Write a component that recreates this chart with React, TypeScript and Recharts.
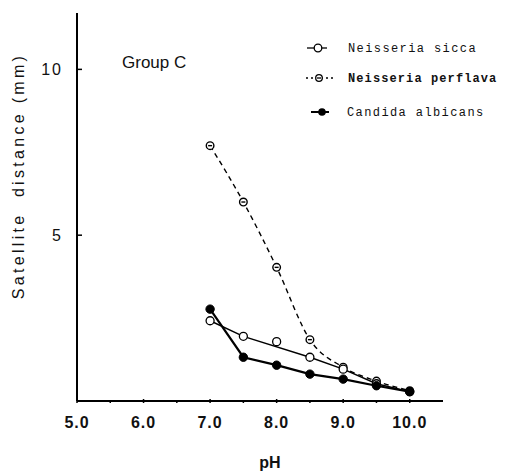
import { ComposedChart, Line, XAxis, YAxis, Customized } from "recharts";

const phValues = [7.0, 7.5, 8.0, 8.5, 9.0, 9.5, 10.0];
const siccaValues = [2.42, 1.95, 1.79, 1.32, 0.96, 0.52, 0.28];
const perflavaValues = [7.7, 6.0, 4.03, 1.85, 1.02, 0.6, 0.31];
const candidaValues = [2.77, 1.32, 1.08, 0.81, 0.66, 0.46, 0.28];

const xTicks = [5, 5.5, 6, 6.5, 7, 7.5, 8, 8.5, 9, 9.5, 10];
const yTicks = [5, 10];

const toPoints = (vals: number[]) => phValues.map((x, i) => ({ x, y: vals[i] }));
const sicca = toPoints(siccaValues);
// the fitted sicca line skips the pH 8.0 reading
const siccaLine = sicca.filter((p) => p.x !== 8.0);
const perflava = toPoints(perflavaValues);
const candida = toPoints(candidaValues);

const sans = "'Liberation Sans', Arial, sans-serif";
const mono = "'Liberation Mono', 'DejaVu Sans Mono', monospace";

const OpenDot = (props: any) => {
  const { cx, cy } = props;
  if (cx == null || cy == null) return null;
  return <circle cx={cx} cy={cy} r={4} fill="#fff" stroke="#000" strokeWidth={1.3} />;
};

const FilledDot = (props: any) => {
  const { cx, cy } = props;
  if (cx == null || cy == null) return null;
  return <circle cx={cx} cy={cy} r={4.2} fill="#000" stroke="#000" strokeWidth={1} />;
};

const BarDot = (props: any) => {
  const { cx, cy } = props;
  if (cx == null || cy == null) return null;
  return (
    <g>
      <circle cx={cx} cy={cy} r={3.8} fill="#fff" stroke="#000" strokeWidth={1.4} />
      <line x1={cx - 2} y1={cy} x2={cx + 2} y2={cy} stroke="#000" strokeWidth={1.4} />
    </g>
  );
};

const XTick = (props: any) => {
  const { x, y, payload } = props;
  const v = payload.value as number;
  const major = Number.isInteger(v);
  return (
    <g>
      <line x1={x} y1={y} x2={x} y2={y - (major ? 4 : 3)} stroke="#000" strokeWidth={1.5} />
      {major && (
        <text
          x={x}
          y={y + 25}
          textAnchor="middle"
          fontFamily={sans}
          fontSize={16}
          fontWeight="bold"
          letterSpacing={1}
          fill="#111"
        >
          {v.toFixed(1)}
        </text>
      )}
    </g>
  );
};

const YTick = (props: any) => {
  const { y, payload } = props;
  return (
    <g>
      <line x1={77} y1={y} x2={82} y2={y} stroke="#000" strokeWidth={1.5} />
      <text
        x={63}
        y={y + 6}
        textAnchor="end"
        fontFamily={sans}
        fontSize={16}
        letterSpacing={2}
        fill="#111"
      >
        {payload.value}
      </text>
    </g>
  );
};

const Legend = () => (
  <g fontFamily={mono} fontSize={12} fill="#111">
    <line x1={307} y1={48} x2={327} y2={48} stroke="#000" strokeWidth={1.3} />
    <circle cx={318} cy={48} r={3.8} fill="#fff" stroke="#000" strokeWidth={1.3} />
    <text x={348} y={52} letterSpacing={1.4}>Neisseria sicca</text>

    <line x1={306} y1={78} x2={336} y2={78} stroke="#000" strokeWidth={1.3} strokeDasharray="2 3" />
    <circle cx={319} cy={78} r={3.3} fill="#fff" stroke="#000" strokeWidth={1.3} />
    <line x1={317} y1={78} x2={321} y2={78} stroke="#000" strokeWidth={1.3} />
    <text x={348} y={82} fontWeight="bold" letterSpacing={1.1}>Neisseria perflava</text>

    <line x1={311} y1={112} x2={329} y2={112} stroke="#000" strokeWidth={2} />
    <circle cx={322} cy={112} r={3.8} fill="#000" />
    <text x={347} y={116} letterSpacing={1.4}>Candida albicans</text>
  </g>
);

const Annotations = () => (
  <g>
    <text x={122} y={68} fontFamily={sans} fontSize={17} fill="#111">Group C</text>
    <text
      x={270}
      y={468}
      textAnchor="middle"
      fontFamily={sans}
      fontSize={16}
      fontWeight="bold"
      fill="#111"
    >
      pH
    </text>
    <text
      transform="translate(24,176) rotate(-90)"
      textAnchor="middle"
      fontFamily={sans}
      fontSize={16}
      letterSpacing={3.3}
      fill="#111"
      style={{ whiteSpace: "pre" }}
    >
      {"Satellite  distance (mm)"}
    </text>
    <Legend />
  </g>
);

export default function App() {
  return (
    <div style={{ position: "absolute", left: 0, top: 0, background: "#fff" }}>
      <ComposedChart
        width={505}
        height={472}
        margin={{ top: 13, right: 62, bottom: 70, left: 76 }}
      >
        <XAxis
          type="number"
          dataKey="x"
          domain={[5, 10.5]}
          ticks={xTicks}
          interval={0}
          tick={<XTick />}
          tickLine={false}
          tickSize={0}
          height={1}
          axisLine={{ stroke: "#000", strokeWidth: 2 }}
          allowDataOverflow
        />
        <YAxis
          type="number"
          dataKey="y"
          domain={[0, 11.7]}
          ticks={yTicks}
          tick={<YTick />}
          tickLine={false}
          tickSize={0}
          width={1}
          axisLine={{ stroke: "#000", strokeWidth: 2 }}
          allowDataOverflow
        />
        <Line
          data={perflava}
          dataKey="y"
          type="monotone"
          stroke="#000"
          strokeWidth={1.4}
          strokeDasharray="5 4"
          dot={<BarDot />}
          isAnimationActive={false}
        />
        <Line
          data={siccaLine}
          dataKey="y"
          type="linear"
          stroke="#000"
          strokeWidth={1.4}
          dot={false}
          isAnimationActive={false}
        />
        <Line
          data={sicca}
          dataKey="y"
          stroke="none"
          dot={<OpenDot />}
          isAnimationActive={false}
        />
        <Line
          data={candida}
          dataKey="y"
          type="linear"
          stroke="#000"
          strokeWidth={2.2}
          dot={<FilledDot />}
          isAnimationActive={false}
        />
        <Customized component={<Annotations />} />
      </ComposedChart>
    </div>
  );
}
